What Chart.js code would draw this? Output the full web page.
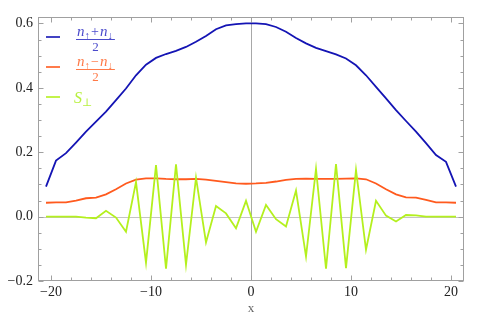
<!DOCTYPE html>
<html>
<head>
<meta charset="utf-8">
<script src="https://cdn.jsdelivr.net/npm/chart.js@4"></script>
<style>
  html, body { margin: 0; padding: 0; background: #fff; }
  #wrap { width: 486px; height: 320px; }
</style>
</head>
<body>
<div id="wrap"><canvas id="plot" width="486" height="320"></canvas></div>
<script>
// site positions (x) and the three profiles
const sites = [-20.5, -19.5, -18.5, -17.5, -16.5, -15.5, -14.5, -13.5, -12.5, -11.5, -10.5,
    -9.5, -8.5, -7.5, -6.5, -5.5, -4.5, -3.5, -2.5, -1.5, -0.5,
    0.5, 1.5, 2.5, 3.5, 4.5, 5.5, 6.5, 7.5, 8.5, 9.5, 10.5,
    11.5, 12.5, 13.5, 14.5, 15.5, 16.5, 17.5, 18.5, 19.5, 20.5];

const density = [0.093, 0.174, 0.197, 0.230, 0.264, 0.295, 0.326, 0.362, 0.398, 0.439, 0.472,
    0.493, 0.505, 0.515, 0.527, 0.543, 0.561, 0.582, 0.594, 0.598, 0.600,
    0.600, 0.598, 0.589, 0.574, 0.555, 0.538, 0.524, 0.514, 0.504, 0.491, 0.470,
    0.439, 0.403, 0.367, 0.331, 0.297, 0.264, 0.228, 0.191, 0.170, 0.093];

const magnet = [0.043, 0.044, 0.044, 0.050, 0.057, 0.059, 0.069, 0.085, 0.103, 0.115, 0.119,
    0.119, 0.117, 0.116, 0.116, 0.117, 0.115, 0.111, 0.107, 0.103, 0.102,
    0.103, 0.105, 0.109, 0.114, 0.117, 0.118, 0.117, 0.117, 0.117, 0.118, 0.119,
    0.116, 0.103, 0.085, 0.069, 0.060, 0.059, 0.052, 0.044, 0.044, 0.043];

const sPerp = [0, 0, 0, 0, -0.003, -0.005, 0.018, -0.003, -0.047, 0.107, -0.143,
    0.160, -0.162, 0.162, -0.150, 0.121, -0.080, 0.033, 0.010, -0.036, 0.049,
    -0.047, 0.036, -0.008, -0.031, 0.081, -0.124, 0.148, -0.162, 0.163, -0.160, 0.145,
    -0.103, 0.049, 0.003, -0.015, 0.005, 0.004, 0, 0, 0, 0];

const xTicks = [-20, -10, 0, 10, 20];
const yTicks = [-0.2, 0.0, 0.2, 0.4, 0.6];

const BLUE = '#1414b4';
const ORANGE = '#ff5a1e';
const GREEN = '#b4f01e';
const SERIF = '"Liberation Serif", "DejaVu Serif", serif';

function pts(ys) {
    return sites.map((x, i) => ({ x: x, y: ys[i] }));
}

const minus = s => s.replace('-', '\u2212');

// frame, ticks, zero lines
const framePlugin = {
    id: 'frame',
    beforeDatasetsDraw(chart) {
        const { ctx, chartArea: a, scales: { x, y } } = chart;
        ctx.save();
        ctx.lineWidth = 1;
        ctx.strokeStyle = '#a8a8a8';
        const x0 = Math.round(x.getPixelForValue(0)) + 0.5;
        ctx.beginPath(); ctx.moveTo(x0, a.top); ctx.lineTo(x0, a.bottom); ctx.stroke();
        ctx.strokeStyle = '#c4c4c4';
        const y0 = Math.round(y.getPixelForValue(0)) + 0.5;
        ctx.beginPath(); ctx.moveTo(a.left, y0); ctx.lineTo(a.right, y0); ctx.stroke();
        ctx.restore();
    },
    afterDraw(chart) {
        const { ctx, chartArea: a, scales: { x, y } } = chart;
        ctx.save();
        ctx.strokeStyle = '#a0a0a0';
        ctx.lineWidth = 1;
        const L = Math.round(a.left) + 0.5, R = Math.round(a.right) - 0.5;
        const T = Math.round(a.top) + 0.5, B = Math.round(a.bottom) - 0.5;
        ctx.strokeRect(L, T, R - L, B - T);
        ctx.beginPath();
        for (let v = -20; v <= 20; v += 2) {
            const p = Math.round(x.getPixelForValue(v)) + 0.5;
            const len = v % 10 === 0 ? 5 : 3;
            ctx.moveTo(p, B); ctx.lineTo(p, B - len);
            ctx.moveTo(p, T); ctx.lineTo(p, T + len);
        }
        for (let k = -4; k <= 12; k++) {
            const v = k * 0.05;
            const p = Math.round(y.getPixelForValue(v)) + 0.5;
            const len = k % 4 === 0 ? 5 : 3;
            ctx.moveTo(L, p); ctx.lineTo(L + len, p);
            ctx.moveTo(R, p); ctx.lineTo(R - len, p);
        }
        ctx.stroke();
        ctx.restore();
    }
};

// legend with fraction labels
function numerator(ctx, x, yb, sign, col) {
    ctx.fillStyle = col;
    ctx.font = 'italic 15px ' + SERIF;
    ctx.fillText('n', x, yb);
    x += ctx.measureText('n').width;
    ctx.font = '11px ' + SERIF;
    ctx.fillText('\u2191', x, yb + 3);
    x += ctx.measureText('\u2191').width + 1;
    ctx.font = '14px ' + SERIF;
    ctx.fillText(sign, x, yb);
    x += ctx.measureText(sign).width + 1;
    ctx.font = 'italic 15px ' + SERIF;
    ctx.fillText('n', x, yb);
    x += ctx.measureText('n').width;
    ctx.font = '11px ' + SERIF;
    ctx.fillText('\u2193', x, yb + 3);
    x += ctx.measureText('\u2193').width;
    return x;
}

const legendPlugin = {
    id: 'fracLegend',
    afterDraw(chart) {
        const ctx = chart.ctx;
        ctx.save();
        ctx.textBaseline = 'alphabetic';
        ctx.textAlign = 'left';
        const rows = [
            { col: BLUE, text: '#4b4bcc', yl: 37, sign: '+' },
            { col: ORANGE, text: '#ff7a48', yl: 67, sign: '\u2212' }
        ];
        rows.forEach(r => {
            ctx.strokeStyle = r.col; ctx.lineWidth = 1.6;
            ctx.beginPath(); ctx.moveTo(46, r.yl); ctx.lineTo(60, r.yl); ctx.stroke();
            const x1 = numerator(ctx, 77, r.yl - 1, r.sign, r.text);
            ctx.strokeStyle = r.text; ctx.lineWidth = 1;
            ctx.beginPath(); ctx.moveTo(76, r.yl + 2.5); ctx.lineTo(x1 + 2, r.yl + 2.5); ctx.stroke();
            ctx.font = '13px ' + SERIF;
            ctx.textAlign = 'center';
            ctx.fillText('2', (76 + x1 + 2) / 2, r.yl + 14);
            ctx.textAlign = 'left';
        });
        ctx.strokeStyle = GREEN; ctx.lineWidth = 1.6;
        ctx.beginPath(); ctx.moveTo(46, 97); ctx.lineTo(60, 97); ctx.stroke();
        ctx.fillStyle = '#b8f040';
        ctx.font = 'italic 16px ' + SERIF;
        ctx.fillText('S', 74, 103);
        const w = ctx.measureText('S').width;
        ctx.font = '11px ' + SERIF;
        ctx.fillText('\u22a5', 74 + w, 106);
        ctx.restore();
    }
};

new Chart(document.getElementById('plot').getContext('2d'), {
    type: 'line',
    data: {
        datasets: [
            { label: '(n\u2191+n\u2193)/2', data: pts(density), borderColor: BLUE, order: 2 },
            { label: '(n\u2191\u2212n\u2193)/2', data: pts(magnet), borderColor: ORANGE, order: 1 },
            { label: 'S\u22a5', data: pts(sPerp), borderColor: GREEN, order: 0 }
        ]
    },
    options: {
        responsive: false,
        animation: false,
        events: [],
        elements: {
            line: { borderWidth: 1.8, tension: 0, fill: false },
            point: { radius: 0 }
        },
        layout: { padding: { left: 0, right: 22, top: 17, bottom: 0 } },
        plugins: { legend: { display: false }, tooltip: { enabled: false } },
        scales: {
            x: {
                type: 'linear',
                min: -21.3, max: 21.3,
                grid: { display: false, drawTicks: false },
                border: { display: false },
                afterBuildTicks: s => { s.ticks = xTicks.map(v => ({ value: v })); },
                afterFit: s => { s.height = 39; },
                ticks: {
                    padding: 3,
                    maxRotation: 0,
                    color: '#222',
                    font: { family: SERIF, size: 14 },
                    callback: v => minus(String(v))
                },
                title: {
                    display: true, text: 'x', color: '#666',
                    font: { family: SERIF, size: 13 },
                    padding: { top: 0, bottom: 4 }
                }
            },
            y: {
                min: -0.2, max: 0.62,
                grid: { display: false, drawTicks: false },
                border: { display: false },
                afterBuildTicks: s => { s.ticks = yTicks.map(v => ({ value: v })); },
                afterFit: s => { s.width = 38; },
                ticks: {
                    padding: 5,
                    color: '#222',
                    font: { family: SERIF, size: 14 },
                    callback: v => minus(v.toFixed(1))
                }
            }
        }
    },
    plugins: [framePlugin, legendPlugin]
});
</script>
</body>
</html>
